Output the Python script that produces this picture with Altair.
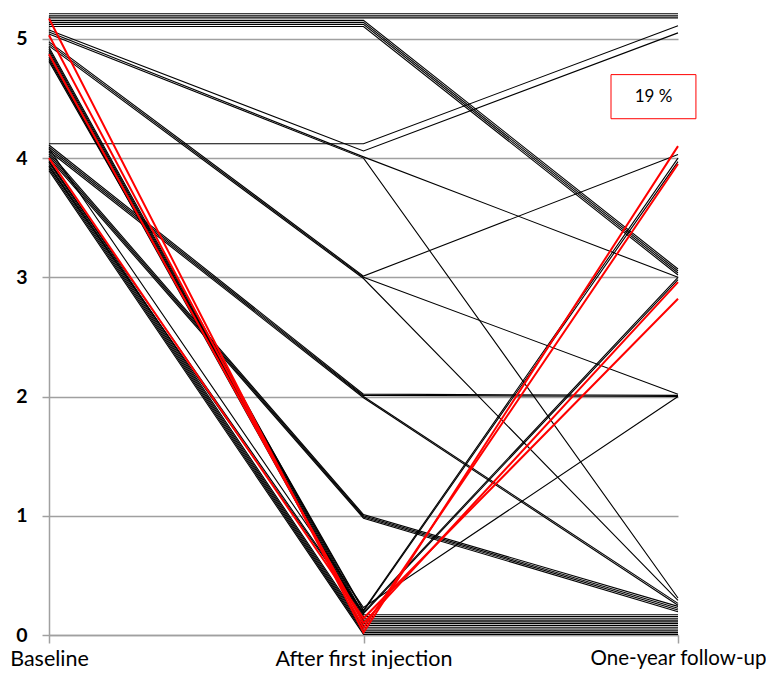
import altair as alt
import pandas as pd

stages = ["Baseline", "After first injection", "One-year follow-up"]

# one entry per patient: value at baseline, after first injection, one-year follow-up
baseline = [5.21, 5.193, 5.176,
            5.155, 5.138, 5.121, 5.104,
            4.12,
            5.075, 5.058, 5.041,
            4.975, 4.958, 4.941,
            4.11, 4.093, 4.076, 4.059,
            4.05, 4.033, 4.016, 3.999,
            4.93, 4.913, 4.896, 4.879, 4.862, 4.845,
            3.98, 3.963, 3.946, 3.929, 3.912, 3.895,
            4.828, 4.811, 3.97, 3.93, 4.08,
            5.17, 5.03, 4.87, 4.00]
injection = [5.21, 5.193, 5.176,
             5.155, 5.138, 5.121, 5.104,
             4.12,
             4.06, 4.01, 4.00,
             3.01, 3.00, 2.99,
             2.02, 2.01, 2.00, 1.99,
             1.01, 1.00, 0.99, 0.98,
             0.17, 0.155, 0.14, 0.125, 0.11, 0.095,
             0.08, 0.065, 0.05, 0.035, 0.02, 0.005,
             0.21, 0.20, 0.19, 0.18, 0.23,
             0.02, 0.06, 0.10, 0.14]
followup = [5.21, 5.193, 5.176,
            3.07, 3.053, 3.036, 3.019,
            5.11,
            5.05, 3.00, 0.31,
            4.03, 2.02, 0.29,
            2.01, 2.00, 0.265, 0.25,
            0.24, 0.225, 0.21, 0.195,
            0.17, 0.155, 0.14, 0.125, 0.11, 0.095,
            0.08, 0.065, 0.05, 0.035, 0.02, 0.005,
            4.00, 3.97, 3.00, 2.98, 2.00,
            4.10, 3.95, 2.96, 2.82]
recurrence = [False] * 39 + [True] * 4

annot_text = ["19 %"]
annot_box = {"x": [1.787], "x2": [2.057], "y": [4.70], "y2": [4.33], "tx": [1.922], "ty": [4.515]}

rows = []
for pid, (b, i, f, r) in enumerate(zip(baseline, injection, followup, recurrence)):
    for k, v in enumerate([b, i, f]):
        rows.append({"pid": pid, "stage": k, "value": v, "red": r})
df = pd.DataFrame(rows)

label_expr = ("datum.value == 0 ? 'Baseline' : datum.value == 1 ? 'After first injection' : "
              "datum.value == 2 ? 'One-year follow-up' : ''")

x_enc = alt.X("stage:Q", scale=alt.Scale(domain=[0, 2], nice=False),
              axis=alt.Axis(values=[0, 1, 2], labelExpr=label_expr, title=None, grid=False,
                            labelFontSize={"condition": {"test": "datum.value == 2", "value": 20.5},
                                           "value": 21.5},
                            labelFont="Lato", labelColor="#000000",
                            labelPadding=5, labelLimit=0, tickSize=8, tickColor="#a0a0a0",
                            tickWidth=1.5, domainColor="#a0a0a0", domainWidth=1.5,
                            labelFlush=False))
y_enc = alt.Y("value:Q", scale=alt.Scale(domain=[0, 5.2], nice=False, zero=True),
              axis=alt.Axis(values=[0, 1, 2, 3, 4, 5], format="d", title=None, grid=True,
                            gridColor="#a0a0a0", gridWidth=1.5, labelFontSize=19.5,
                            labelFont="Lato", labelFontWeight="bold", labelColor="#000000",
                            labelPadding=15, tickSize=7, tickColor="#a0a0a0", tickWidth=1.5,
                            domainColor="#a0a0a0", domainWidth=1.5))

black = alt.Chart(df[~df["red"]]).mark_line(color="#000000", strokeWidth=1.1).encode(
    x=x_enc, y=y_enc, detail="pid:N", order="stage:Q")
red = alt.Chart(df[df["red"]]).mark_line(color="#ff0000", strokeWidth=2).encode(
    x="stage:Q", y="value:Q", detail="pid:N", order="stage:Q")

box_df = pd.DataFrame(annot_box)
box_df["label"] = annot_text
box = alt.Chart(box_df).mark_rect(fill="#ffffff", stroke="#ff0000", strokeWidth=1).encode(
    x="x:Q", x2="x2", y="y:Q", y2="y2")
txt = alt.Chart(box_df).mark_text(fontSize=17, font="Lato", color="#000000").encode(
    x="tx:Q", y="ty:Q", text="label:N")

chart = alt.layer(black, red, box, txt).properties(
    width=629, height=620,
    autosize=alt.AutoSizeParams(type="none"),
    padding={"left": 41, "top": 7, "right": 88, "bottom": 34},
).configure_view(stroke=None)

chart.save("out.html", embed_options={"renderer": "svg", "actions": False})
